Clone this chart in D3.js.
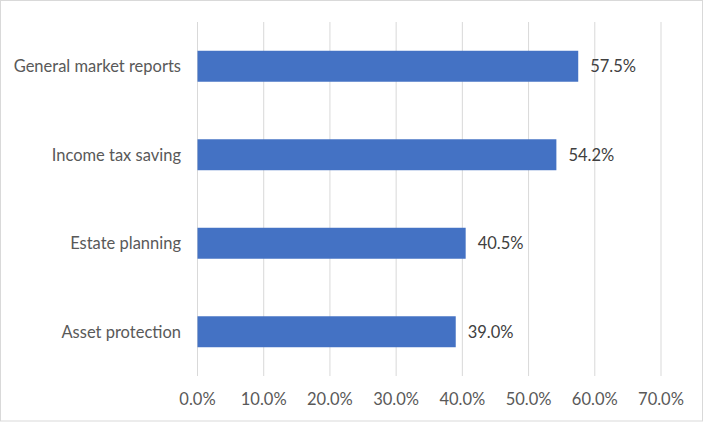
<!DOCTYPE html>
<html><head><meta charset="utf-8">
<script src="https://d3js.org/d3.v7.min.js"></script>
<style>body{margin:0;background:#fff;}svg{display:block;}</style>
</head><body>
<svg id="c" width="705" height="422"></svg>
<script>
const categories = ["General market reports","Income tax saving","Estate planning","Asset protection"];
const values = [57.5, 54.2, 40.5, 39.0];
const ticks = [0,10,20,30,40,50,60,70];

const svg = d3.select("#c");
const font = "Lato, 'Open Sans', sans-serif";
const fs = 16.5;
svg.append("rect").attr("x",0.5).attr("y",0.5).attr("width",702).attr("height",420.5)
  .attr("fill","#fff").attr("stroke","#d9d9d9").attr("stroke-width",1);

const x = d3.scaleLinear().domain([0,70]).range([197.5,661]);
const y = d3.scaleBand().domain(categories).range([22,376]).paddingInner(0.65).paddingOuter(0.325);

svg.append("g").selectAll("line").data(ticks).join("line")
  .attr("x1",d=>x(d)).attr("x2",d=>x(d)).attr("y1",22).attr("y2",376)
  .attr("stroke","#d9d9d9").attr("stroke-width",1);

svg.append("g").selectAll("rect").data(values).join("rect")
  .attr("x",x(0)).attr("y",(d,i)=>y(categories[i]))
  .attr("width",d=>x(d)-x(0)).attr("height",y.bandwidth())
  .attr("fill","#4472c4");

svg.append("g").selectAll("text").data(values).join("text")
  .attr("x",d=>x(d)+12).attr("y",(d,i)=>y(categories[i])+y.bandwidth()/2)
  .attr("dy","0.35em").attr("font-family",font).attr("font-size",fs).attr("fill","#404040")
  .text(d=>d.toFixed(1)+"%");

svg.append("g").selectAll("text").data(categories).join("text")
  .attr("x",181).attr("y",d=>y(d)+y.bandwidth()/2).attr("dy","0.35em")
  .attr("text-anchor","end").attr("font-family",font).attr("font-size",fs).attr("fill","#595959")
  .text(d=>d);

svg.append("g").selectAll("text").data(ticks).join("text")
  .attr("x",d=>x(d)).attr("y",399).attr("dy","0.35em")
  .attr("text-anchor","middle").attr("font-family",font).attr("font-size",fs).attr("fill","#595959")
  .text(d=>d.toFixed(1)+"%");
</script>
</body></html>
